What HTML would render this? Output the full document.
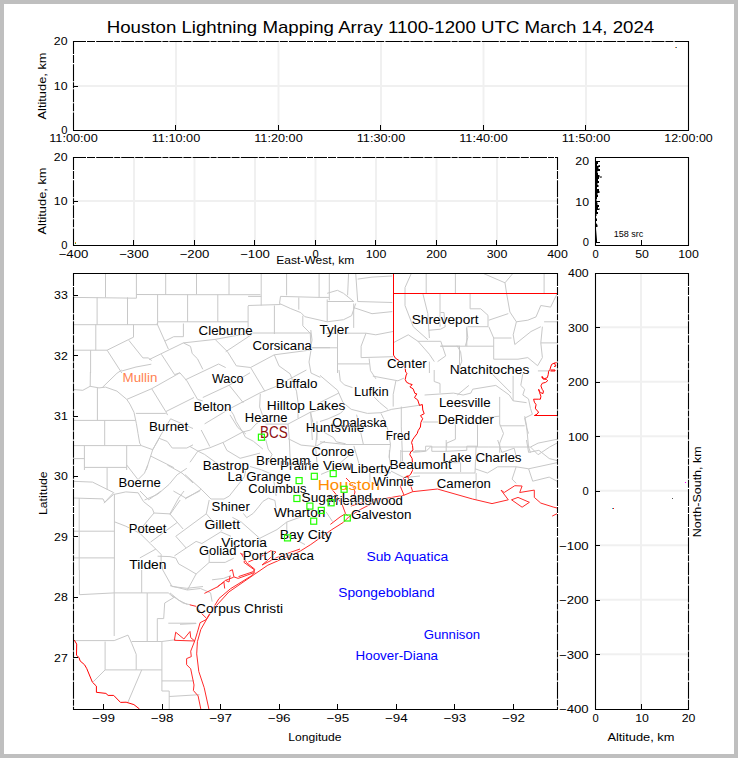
<!DOCTYPE html>
<html><head><meta charset="utf-8"><style>
html,body{margin:0;padding:0;background:#fff;}
svg{display:block;font-family:"Liberation Sans", sans-serif;}
</style></head><body>
<svg width="738" height="758" viewBox="0 0 738 758">
<rect x="0" y="0" width="738" height="758" fill="#bfbfbf"/>
<rect x="4" y="4" width="730" height="750" fill="#fff"/>
<text x="380.5" y="32.8" font-size="16.4" text-anchor="middle" fill="#000" textLength="547.5" lengthAdjust="spacingAndGlyphs" >Houston Lightning Mapping Array 1100-1200 UTC March 14, 2024</text>
<line x1="176.0" y1="42" x2="176.0" y2="130" stroke="#f0f0f0" stroke-width="2" />
<line x1="278.5" y1="42" x2="278.5" y2="130" stroke="#f0f0f0" stroke-width="2" />
<line x1="381.0" y1="42" x2="381.0" y2="130" stroke="#f0f0f0" stroke-width="2" />
<line x1="483.5" y1="42" x2="483.5" y2="130" stroke="#f0f0f0" stroke-width="2" />
<line x1="586.0" y1="42" x2="586.0" y2="130" stroke="#f0f0f0" stroke-width="2" />
<line x1="73" y1="86" x2="688" y2="86" stroke="#f0f0f0" stroke-width="2" />
<line x1="73.0" y1="41.5" x2="689.0" y2="41.5" stroke="#000" stroke-width="1.1" stroke-dasharray="13 1 8 1.2 17 1 6 1"/>
<line x1="73.0" y1="130.5" x2="689.0" y2="130.5" stroke="#000" stroke-width="1.1" />
<line x1="73.5" y1="41.0" x2="73.5" y2="131.0" stroke="#000" stroke-width="1.1" stroke-dasharray="13 1 8 1.2 17 1 6 1"/>
<line x1="688.5" y1="41.0" x2="688.5" y2="131.0" stroke="#000" stroke-width="1.1" />
<line x1="73.5" y1="130" x2="73.5" y2="125" stroke="#000" stroke-width="1" />
<text x="73.5" y="141.7" font-size="11.2" text-anchor="middle" fill="#000" textLength="48.5" lengthAdjust="spacingAndGlyphs" >11:00:00</text>
<line x1="175.5" y1="130" x2="175.5" y2="125" stroke="#000" stroke-width="1" />
<text x="176.0" y="141.7" font-size="11.2" text-anchor="middle" fill="#000" textLength="48.5" lengthAdjust="spacingAndGlyphs" >11:10:00</text>
<line x1="278.5" y1="130" x2="278.5" y2="125" stroke="#000" stroke-width="1" />
<text x="278.5" y="141.7" font-size="11.2" text-anchor="middle" fill="#000" textLength="48.5" lengthAdjust="spacingAndGlyphs" >11:20:00</text>
<line x1="380.5" y1="130" x2="380.5" y2="125" stroke="#000" stroke-width="1" />
<text x="381.0" y="141.7" font-size="11.2" text-anchor="middle" fill="#000" textLength="48.5" lengthAdjust="spacingAndGlyphs" >11:30:00</text>
<line x1="483.5" y1="130" x2="483.5" y2="125" stroke="#000" stroke-width="1" />
<text x="483.5" y="141.7" font-size="11.2" text-anchor="middle" fill="#000" textLength="48.5" lengthAdjust="spacingAndGlyphs" >11:40:00</text>
<line x1="585.5" y1="130" x2="585.5" y2="125" stroke="#000" stroke-width="1" />
<text x="586.0" y="141.7" font-size="11.2" text-anchor="middle" fill="#000" textLength="48.5" lengthAdjust="spacingAndGlyphs" >11:50:00</text>
<line x1="688.5" y1="130" x2="688.5" y2="125" stroke="#000" stroke-width="1" />
<text x="688.5" y="141.7" font-size="11.2" text-anchor="middle" fill="#000" textLength="48.5" lengthAdjust="spacingAndGlyphs" >12:00:00</text>
<line x1="73" y1="41.5" x2="78" y2="41.5" stroke="#000" stroke-width="1" />
<text x="67.5" y="45.2" font-size="11.2" text-anchor="end" fill="#000" textLength="13.7" lengthAdjust="spacingAndGlyphs" >20</text>
<line x1="73" y1="86.5" x2="78" y2="86.5" stroke="#000" stroke-width="1" />
<text x="67.5" y="90.2" font-size="11.2" text-anchor="end" fill="#000" textLength="13.7" lengthAdjust="spacingAndGlyphs" >10</text>
<line x1="73" y1="130.5" x2="78" y2="130.5" stroke="#000" stroke-width="1" />
<text x="67.5" y="134.2" font-size="11.2" text-anchor="end" fill="#000" >0</text>
<text x="45.6" y="86.0" font-size="11.2" text-anchor="middle" fill="#000" textLength="67.0" lengthAdjust="spacingAndGlyphs" transform="rotate(-90 45.6 86.0)" >Altitude, km</text>
<line x1="134.0" y1="158" x2="134.0" y2="245" stroke="#f0f0f0" stroke-width="2" />
<line x1="194.5" y1="158" x2="194.5" y2="245" stroke="#f0f0f0" stroke-width="2" />
<line x1="255.0" y1="158" x2="255.0" y2="245" stroke="#f0f0f0" stroke-width="2" />
<line x1="315.5" y1="158" x2="315.5" y2="245" stroke="#f0f0f0" stroke-width="2" />
<line x1="376.0" y1="158" x2="376.0" y2="245" stroke="#f0f0f0" stroke-width="2" />
<line x1="436.5" y1="158" x2="436.5" y2="245" stroke="#f0f0f0" stroke-width="2" />
<line x1="497.0" y1="158" x2="497.0" y2="245" stroke="#f0f0f0" stroke-width="2" />
<line x1="73" y1="201" x2="557" y2="201" stroke="#f0f0f0" stroke-width="2" />
<line x1="73.0" y1="157.5" x2="558.0" y2="157.5" stroke="#000" stroke-width="1.1" stroke-dasharray="13 1 8 1.2 17 1 6 1"/>
<line x1="73.0" y1="245.5" x2="558.0" y2="245.5" stroke="#000" stroke-width="1.1" />
<line x1="73.5" y1="157.0" x2="73.5" y2="246.0" stroke="#000" stroke-width="1.1" stroke-dasharray="13 1 8 1.2 17 1 6 1"/>
<line x1="557.5" y1="157.0" x2="557.5" y2="246.0" stroke="#000" stroke-width="1.1" stroke-dasharray="13 1 8 1.2 17 1 6 1"/>
<line x1="73.5" y1="245" x2="73.5" y2="240" stroke="#000" stroke-width="1" />
<text x="73.5" y="257.6" font-size="11.2" text-anchor="middle" fill="#000" textLength="29.7" lengthAdjust="spacingAndGlyphs" >−400</text>
<line x1="133.5" y1="245" x2="133.5" y2="240" stroke="#000" stroke-width="1" />
<text x="134.0" y="257.6" font-size="11.2" text-anchor="middle" fill="#000" textLength="29.7" lengthAdjust="spacingAndGlyphs" >−300</text>
<line x1="194.5" y1="245" x2="194.5" y2="240" stroke="#000" stroke-width="1" />
<text x="194.5" y="257.6" font-size="11.2" text-anchor="middle" fill="#000" textLength="29.7" lengthAdjust="spacingAndGlyphs" >−200</text>
<line x1="254.5" y1="245" x2="254.5" y2="240" stroke="#000" stroke-width="1" />
<text x="255.0" y="257.6" font-size="11.2" text-anchor="middle" fill="#000" textLength="29.7" lengthAdjust="spacingAndGlyphs" >−100</text>
<line x1="315.5" y1="245" x2="315.5" y2="240" stroke="#000" stroke-width="1" />
<text x="315.5" y="257.6" font-size="11.2" text-anchor="middle" fill="#000" >0</text>
<line x1="375.5" y1="245" x2="375.5" y2="240" stroke="#000" stroke-width="1" />
<text x="376.0" y="257.6" font-size="11.2" text-anchor="middle" fill="#000" textLength="20.6" lengthAdjust="spacingAndGlyphs" >100</text>
<line x1="436.5" y1="245" x2="436.5" y2="240" stroke="#000" stroke-width="1" />
<text x="436.5" y="257.6" font-size="11.2" text-anchor="middle" fill="#000" textLength="20.6" lengthAdjust="spacingAndGlyphs" >200</text>
<line x1="496.5" y1="245" x2="496.5" y2="240" stroke="#000" stroke-width="1" />
<text x="497.0" y="257.6" font-size="11.2" text-anchor="middle" fill="#000" textLength="20.6" lengthAdjust="spacingAndGlyphs" >300</text>
<line x1="557.5" y1="245" x2="557.5" y2="240" stroke="#000" stroke-width="1" />
<text x="557.5" y="257.6" font-size="11.2" text-anchor="middle" fill="#000" textLength="20.6" lengthAdjust="spacingAndGlyphs" >400</text>
<line x1="73" y1="157.5" x2="78" y2="157.5" stroke="#000" stroke-width="1" />
<text x="67.5" y="161.2" font-size="11.2" text-anchor="end" fill="#000" textLength="13.7" lengthAdjust="spacingAndGlyphs" >20</text>
<line x1="73" y1="201.5" x2="78" y2="201.5" stroke="#000" stroke-width="1" />
<text x="67.5" y="205.2" font-size="11.2" text-anchor="end" fill="#000" textLength="13.7" lengthAdjust="spacingAndGlyphs" >10</text>
<line x1="73" y1="245.5" x2="78" y2="245.5" stroke="#000" stroke-width="1" />
<text x="67.5" y="249.2" font-size="11.2" text-anchor="end" fill="#000" >0</text>
<text x="45.6" y="201.0" font-size="11.2" text-anchor="middle" fill="#000" textLength="67.0" lengthAdjust="spacingAndGlyphs" transform="rotate(-90 45.6 201.0)" >Altitude, km</text>
<text x="315.3" y="263.9" font-size="11.2" text-anchor="middle" fill="#000" textLength="78.0" lengthAdjust="spacingAndGlyphs" >East-West, km</text>
<line x1="595.0" y1="157.5" x2="689.0" y2="157.5" stroke="#000" stroke-width="1.1" />
<line x1="595.0" y1="245.5" x2="689.0" y2="245.5" stroke="#000" stroke-width="1.1" />
<line x1="595.5" y1="157.0" x2="595.5" y2="246.0" stroke="#000" stroke-width="1.1" />
<line x1="688.5" y1="157.0" x2="688.5" y2="246.0" stroke="#000" stroke-width="1.1" />
<line x1="595.5" y1="245" x2="595.5" y2="240" stroke="#000" stroke-width="1" />
<text x="595.5" y="257.7" font-size="11.2" text-anchor="middle" fill="#000" >0</text>
<line x1="641.5" y1="245" x2="641.5" y2="240" stroke="#000" stroke-width="1" />
<text x="642.0" y="257.7" font-size="11.2" text-anchor="middle" fill="#000" textLength="13.7" lengthAdjust="spacingAndGlyphs" >50</text>
<line x1="688.5" y1="245" x2="688.5" y2="240" stroke="#000" stroke-width="1" />
<text x="688.5" y="257.7" font-size="11.2" text-anchor="middle" fill="#000" textLength="20.6" lengthAdjust="spacingAndGlyphs" >100</text>
<line x1="595" y1="242.5" x2="600" y2="242.5" stroke="#000" stroke-width="1" />
<text x="589.0" y="246.2" font-size="11.2" text-anchor="end" fill="#000" >0</text>
<line x1="595" y1="201.5" x2="600" y2="201.5" stroke="#000" stroke-width="1" />
<text x="589.0" y="205.6" font-size="11.2" text-anchor="end" fill="#000" textLength="13.7" lengthAdjust="spacingAndGlyphs" >10</text>
<line x1="595" y1="161.5" x2="600" y2="161.5" stroke="#000" stroke-width="1" />
<text x="589.0" y="165.0" font-size="11.2" text-anchor="end" fill="#000" textLength="13.7" lengthAdjust="spacingAndGlyphs" >20</text>
<text x="628.5" y="237.1" font-size="8.8" text-anchor="middle" fill="#000" textLength="29.7" lengthAdjust="spacingAndGlyphs" >158 src</text>
<path d="M595.5,161 L598,162 L598,164 L597,164 L597,166 L600,165 L600,167 L598.5,167 L598.5,169 L600,169 L600,171 L597.5,171 L597.5,173 L598,173 L598,175 L599.5,175 L599.5,177 L601.5,176 L601.5,178 L599,177 L599,179 L598,179 L598,181 L599,181 L599,183 L597.5,183 L597.5,185 L598.5,185 L598.5,187 L597,187 L597,189 L599,189 L599,191 L599.5,191 L599.5,193 L597.5,193 L597.5,195 L598,195 L598,197 L597,197 L597,199 L596.5,199 L596.5,201 L597.5,203 L597.5,205 L599,205 L599,207 L598,207 L598,209 L599.5,208 L599.5,210 L597,210 L597,212 L598,212 L598,214 L596.5,214 L596.5,216 L596,216 L596,218 L597,219 L597,221 L596,221 L596,223 L597.5,225 L597.5,227 L596,227 L596,229 L597,240 L597,242 L596,242 L596,244 L595.5,244 Z" fill="#000"/>
<clipPath id="mc"><rect x="73" y="273" width="484" height="436"/></clipPath>
<g clip-path="url(#mc)" fill="none" stroke-linejoin="round">
<polyline points="105.5,273.0 105.5,297.4" stroke="#c8c8c8" stroke-width="1"/>
<polyline points="136.4,273.0 136.4,298.2" stroke="#c8c8c8" stroke-width="1"/>
<polyline points="165.7,273.0 165.7,295.0" stroke="#c8c8c8" stroke-width="1"/>
<polyline points="73.0,297.4 136.4,298.2" stroke="#c8c8c8" stroke-width="1"/>
<polyline points="136.4,294.5 196.5,294.7 260.5,294.7" stroke="#c8c8c8" stroke-width="1"/>
<polyline points="97.1,297.4 97.1,324.7" stroke="#c8c8c8" stroke-width="1"/>
<polyline points="127.5,297.4 127.5,324.7" stroke="#c8c8c8" stroke-width="1"/>
<polyline points="157.6,294.5 157.6,321.8" stroke="#c8c8c8" stroke-width="1"/>
<polyline points="187.6,294.5 187.6,321.8" stroke="#c8c8c8" stroke-width="1"/>
<polyline points="73.0,324.7 157.6,324.7 157.6,321.8 217.8,321.8 248.1,321.8" stroke="#c8c8c8" stroke-width="1"/>
<polyline points="95.8,324.7 95.8,350.2" stroke="#c8c8c8" stroke-width="1"/>
<polyline points="133.5,324.7 133.5,337.2 128.3,339.7 107.1,350.2 73.0,350.2" stroke="#c8c8c8" stroke-width="1"/>
<polyline points="90.6,350.2 90.6,373.0" stroke="#c8c8c8" stroke-width="1"/>
<polyline points="107.1,350.2 121.8,373.0" stroke="#c8c8c8" stroke-width="1"/>
<polyline points="196.5,273.0 196.5,294.7" stroke="#c8c8c8" stroke-width="1"/>
<polyline points="229.0,273.0 229.0,294.7" stroke="#c8c8c8" stroke-width="1"/>
<polyline points="217.8,294.7 217.8,321.8" stroke="#c8c8c8" stroke-width="1"/>
<polyline points="248.1,306.0 248.1,335.5" stroke="#c8c8c8" stroke-width="1"/>
<polyline points="310.3,333.7 311.0,350.0 309.0,362.0 311.0,373.0" stroke="#c8c8c8" stroke-width="1"/>
<polyline points="310.3,347.8 337.5,347.8" stroke="#c8c8c8" stroke-width="1"/>
<polyline points="337.5,329.4 337.5,373.0" stroke="#c8c8c8" stroke-width="1"/>
<polyline points="326.0,333.7 340.0,333.2 366.0,333.2 375.8,334.8 393.0,331.5" stroke="#c8c8c8" stroke-width="1"/>
<polyline points="366.0,333.2 361.1,346.2 361.1,357.6 393.0,356.7" stroke="#c8c8c8" stroke-width="1"/>
<polyline points="411.5,273.0 405.0,287.6 405.0,305.5 413.2,326.7 427.8,339.7" stroke="#c8c8c8" stroke-width="1"/>
<polyline points="426.2,273.0 426.2,293.8" stroke="#c8c8c8" stroke-width="1"/>
<polyline points="455.4,273.0 455.4,293.8" stroke="#c8c8c8" stroke-width="1"/>
<polyline points="422.9,293.8 427.8,313.6 429.4,338.0" stroke="#c8c8c8" stroke-width="1"/>
<polyline points="440.0,293.8 440.0,326.7" stroke="#c8c8c8" stroke-width="1"/>
<polyline points="393.0,342.9 408.3,334.8 418.0,341.3 440.8,341.3 445.7,355.9 437.6,361.6" stroke="#c8c8c8" stroke-width="1"/>
<polyline points="418.0,341.3 429.4,354.3 434.3,361.6" stroke="#c8c8c8" stroke-width="1"/>
<polyline points="429.4,361.6 429.4,373.0" stroke="#c8c8c8" stroke-width="1"/>
<polyline points="440.8,346.2 460.0,346.2" stroke="#c8c8c8" stroke-width="1"/>
<polyline points="482.3,273.0 505.0,282.8 513.2,273.0" stroke="#c8c8c8" stroke-width="1"/>
<polyline points="505.0,282.8 506.7,294.0" stroke="#c8c8c8" stroke-width="1"/>
<polyline points="544.1,273.0 544.1,294.0" stroke="#c8c8c8" stroke-width="1"/>
<polyline points="470.1,294.0 470.1,308.8 480.7,308.8 488.0,315.3 488.0,326.7 467.6,326.7" stroke="#c8c8c8" stroke-width="1"/>
<polyline points="506.7,294.0 509.9,312.0 516.4,321.8 513.2,334.8 514.8,344.5" stroke="#c8c8c8" stroke-width="1"/>
<polyline points="488.8,320.2 508.3,313.6" stroke="#c8c8c8" stroke-width="1"/>
<polyline points="488.8,326.7 493.7,338.0 493.7,359.2 518.0,359.2" stroke="#c8c8c8" stroke-width="1"/>
<polyline points="493.7,338.0 511.5,338.0" stroke="#c8c8c8" stroke-width="1"/>
<polyline points="440.0,346.2 493.7,346.2" stroke="#c8c8c8" stroke-width="1"/>
<polyline points="466.8,326.7 466.8,346.2" stroke="#c8c8c8" stroke-width="1"/>
<polyline points="459.5,346.2 459.5,373.0" stroke="#c8c8c8" stroke-width="1"/>
<polyline points="516.4,321.8 527.8,320.2 536.0,316.9 540.8,305.5 550.6,307.1 557.0,294.0" stroke="#c8c8c8" stroke-width="1"/>
<polyline points="544.1,321.8 557.0,321.8" stroke="#c8c8c8" stroke-width="1"/>
<polyline points="514.8,344.5 531.0,331.5 540.8,326.7" stroke="#c8c8c8" stroke-width="1"/>
<polyline points="542.4,326.7 540.8,342.9 557.0,342.9" stroke="#c8c8c8" stroke-width="1"/>
<polyline points="540.8,342.9 542.4,357.6 537.6,365.7" stroke="#c8c8c8" stroke-width="1"/>
<polyline points="518.0,359.2 527.8,357.6 537.6,365.7" stroke="#c8c8c8" stroke-width="1"/>
<polyline points="73.0,389.5 82.8,390.3 90.1,386.3 99.0,387.9 105.5,387.1 116.9,391.1 126.7,399.3 129.9,404.1 134.0,412.3 136.4,423.7 138.0,433.4 139.7,443.2 141.3,445.6" stroke="#c8c8c8" stroke-width="1"/>
<polyline points="102.3,387.5 116.9,373.3 121.8,370.0" stroke="#c8c8c8" stroke-width="1"/>
<polyline points="97.4,387.9 97.4,420.4" stroke="#c8c8c8" stroke-width="1"/>
<polyline points="73.0,420.4 135.6,420.4" stroke="#c8c8c8" stroke-width="1"/>
<polyline points="104.7,420.4 104.7,445.6" stroke="#c8c8c8" stroke-width="1"/>
<polyline points="73.0,445.6 141.3,445.6 152.7,449.7" stroke="#c8c8c8" stroke-width="1"/>
<polyline points="84.4,445.6 84.4,470.0" stroke="#c8c8c8" stroke-width="1"/>
<polyline points="126.7,445.6 126.7,470.0" stroke="#c8c8c8" stroke-width="1"/>
<polyline points="73.0,458.6 84.4,458.6" stroke="#c8c8c8" stroke-width="1"/>
<polyline points="170.6,418.8 160.8,435.0 152.7,449.7 146.2,470.0" stroke="#c8c8c8" stroke-width="1"/>
<polyline points="152.7,449.7 159.2,438.3 167.3,441.5 172.2,448.0 186.8,448.0 193.0,444.8" stroke="#c8c8c8" stroke-width="1"/>
<polyline points="151.0,456.2 173.8,467.6" stroke="#c8c8c8" stroke-width="1"/>
<polyline points="170.6,418.8 193.0,428.5" stroke="#c8c8c8" stroke-width="1"/>
<polyline points="230.9,410.9 233.5,414.8 236.1,421.4 242.7,432.0 245.4,437.2 253.3,441.2 262.9,449.1" stroke="#c8c8c8" stroke-width="1"/>
<polyline points="201.2,430.0 209.8,446.5" stroke="#c8c8c8" stroke-width="1"/>
<polyline points="190.0,446.5 197.9,451.1 209.8,447.8 224.3,441.9 242.7,432.0" stroke="#c8c8c8" stroke-width="1"/>
<polyline points="197.9,451.1 190.0,462.3" stroke="#c8c8c8" stroke-width="1"/>
<polyline points="197.9,451.1 204.5,454.4 219.0,464.9" stroke="#c8c8c8" stroke-width="1"/>
<polyline points="223.0,442.5 226.9,450.4 240.1,458.3 260.0,453.1" stroke="#c8c8c8" stroke-width="1"/>
<polyline points="242.7,432.0 250.6,430.0 255.9,424.1 260.0,421.4" stroke="#c8c8c8" stroke-width="1"/>
<polyline points="260.3,393.7 259.6,406.9 262.9,416.1 265.5,422.7" stroke="#c8c8c8" stroke-width="1"/>
<polyline points="265.5,424.1 288.0,424.1 310.4,412.2 325.0,408.2" stroke="#c8c8c8" stroke-width="1"/>
<polyline points="288.0,424.1 289.3,438.6 290.6,470.0" stroke="#c8c8c8" stroke-width="1"/>
<polyline points="288.0,438.6 301.1,445.1 315.6,446.5 325.0,441.2" stroke="#c8c8c8" stroke-width="1"/>
<polyline points="310.4,412.2 313.0,422.7 317.0,432.0 315.6,446.5 317.0,462.3" stroke="#c8c8c8" stroke-width="1"/>
<polyline points="265.5,438.6 268.2,449.1 272.1,454.4 268.2,462.3" stroke="#c8c8c8" stroke-width="1"/>
<polyline points="320.0,375.4 337.6,390.3 343.0,402.5 351.2,409.3 367.4,413.4 381.0,412.7 391.8,409.3 420.0,405.2" stroke="#c8c8c8" stroke-width="1"/>
<polyline points="339.0,370.0 340.3,380.8 344.4,384.9 352.5,387.6" stroke="#c8c8c8" stroke-width="1"/>
<polyline points="338.9,393.0 320.0,402.5" stroke="#c8c8c8" stroke-width="1"/>
<polyline points="372.8,376.1 397.9,380.8 404.0,378.1" stroke="#c8c8c8" stroke-width="1"/>
<polyline points="395.9,380.8 393.2,394.4 393.2,406.6" stroke="#c8c8c8" stroke-width="1"/>
<polyline points="374.2,397.1 379.6,402.5 387.8,409.3" stroke="#c8c8c8" stroke-width="1"/>
<polyline points="356.6,414.7 360.7,432.3 363.4,444.5" stroke="#c8c8c8" stroke-width="1"/>
<polyline points="381.0,413.4 383.7,418.8 387.8,429.6 390.5,444.5 389.1,456.7 390.5,464.9" stroke="#c8c8c8" stroke-width="1"/>
<polyline points="401.3,406.6 401.3,426.9 402.7,463.5" stroke="#c8c8c8" stroke-width="1"/>
<polyline points="320.0,441.8 345.7,444.5 390.5,444.5" stroke="#c8c8c8" stroke-width="1"/>
<polyline points="353.9,445.9 359.3,464.9" stroke="#c8c8c8" stroke-width="1"/>
<polyline points="320.0,421.5 328.1,418.8 340.3,413.4 344.4,409.3" stroke="#c8c8c8" stroke-width="1"/>
<polyline points="324.1,432.3 333.6,437.7 336.3,441.8 345.7,443.8" stroke="#c8c8c8" stroke-width="1"/>
<polyline points="401.3,451.3 420.0,451.3" stroke="#c8c8c8" stroke-width="1"/>
<polyline points="434.2,370.0 434.2,381.5 440.0,383.5 440.0,393.1" stroke="#c8c8c8" stroke-width="1"/>
<polyline points="424.6,395.0 453.5,393.1 463.1,395.0 470.8,393.1 472.7,389.2 495.8,385.4 509.3,395.0 513.1,400.8 526.6,402.7" stroke="#c8c8c8" stroke-width="1"/>
<polyline points="457.3,395.0 468.9,385.4" stroke="#c8c8c8" stroke-width="1"/>
<polyline points="492.0,373.8 511.2,393.1" stroke="#c8c8c8" stroke-width="1"/>
<polyline points="513.1,375.8 513.1,400.8" stroke="#c8c8c8" stroke-width="1"/>
<polyline points="499.7,396.9 499.7,423.9 503.5,433.5 499.7,443.1 499.7,452.7" stroke="#c8c8c8" stroke-width="1"/>
<polyline points="422.7,422.0 438.1,422.0" stroke="#c8c8c8" stroke-width="1"/>
<polyline points="478.5,418.1 499.7,416.2" stroke="#c8c8c8" stroke-width="1"/>
<polyline points="499.7,425.8 524.7,425.8" stroke="#c8c8c8" stroke-width="1"/>
<polyline points="455.4,422.0 455.4,439.3 446.7,443.1 446.7,447.0" stroke="#c8c8c8" stroke-width="1"/>
<polyline points="477.5,422.0 477.5,447.0" stroke="#c8c8c8" stroke-width="1"/>
<polyline points="524.7,416.2 526.6,425.8 528.5,447.0 530.5,452.7" stroke="#c8c8c8" stroke-width="1"/>
<polyline points="415.0,450.8 426.5,450.8 430.4,447.0 488.1,447.0 530.5,447.0 538.1,443.1 557.0,439.3" stroke="#c8c8c8" stroke-width="1"/>
<polyline points="522.8,373.8 520.8,385.4 524.7,389.2 522.8,395.0 528.5,398.9 530.5,408.5 532.4,414.3 524.7,418.1 526.6,427.7 528.5,433.5" stroke="#c8c8c8" stroke-width="1"/>
<polyline points="530.5,447.0 538.1,454.7 549.7,447.0 557.0,443.1" stroke="#c8c8c8" stroke-width="1"/>
<polyline points="84.4,467.4 126.7,467.4" stroke="#c8c8c8" stroke-width="1"/>
<polyline points="107.1,467.4 107.1,489.4" stroke="#c8c8c8" stroke-width="1"/>
<polyline points="126.7,465.0 138.0,479.6 144.5,473.1 147.8,465.0" stroke="#c8c8c8" stroke-width="1"/>
<polyline points="73.0,481.3 92.5,482.1 113.7,492.6 103.9,503.2" stroke="#c8c8c8" stroke-width="1"/>
<polyline points="144.5,500.0 157.6,494.3 169.0,484.5 177.1,474.8 186.8,468.3" stroke="#c8c8c8" stroke-width="1"/>
<polyline points="167.3,465.0 182.0,473.1 193.0,482.9" stroke="#c8c8c8" stroke-width="1"/>
<polyline points="201.3,489.3 185.0,499.0" stroke="#c8c8c8" stroke-width="1"/>
<polyline points="298.8,541.3 305.0,544.6" stroke="#c8c8c8" stroke-width="1"/>
<polyline points="250.0,466.5 261.4,469.8 272.8,474.6 276.1,495.8" stroke="#c8c8c8" stroke-width="1"/>
<polyline points="369.9,472.8 369.9,482.5" stroke="#c8c8c8" stroke-width="1"/>
<polyline points="369.9,472.8 391.0,472.8" stroke="#c8c8c8" stroke-width="1"/>
<polyline points="391.0,471.1 404.0,477.6 420.0,476.0" stroke="#c8c8c8" stroke-width="1"/>
<polyline points="389.4,450.0 389.4,458.0" stroke="#c8c8c8" stroke-width="1"/>
<polyline points="400.8,450.0 400.8,463.0 410.6,463.0" stroke="#c8c8c8" stroke-width="1"/>
<polyline points="321.0,474.4 332.5,469.5 355.3,450.0" stroke="#c8c8c8" stroke-width="1"/>
<polyline points="326.0,511.8 332.5,521.5" stroke="#c8c8c8" stroke-width="1"/>
<polyline points="413.2,452.4 425.6,451.3 425.6,446.2 431.8,446.2 431.8,451.3 446.2,451.3 446.2,440.0" stroke="#c8c8c8" stroke-width="1"/>
<polyline points="446.2,451.3 466.8,450.3 466.8,446.2 477.1,446.2" stroke="#c8c8c8" stroke-width="1"/>
<polyline points="413.2,473.0 475.0,473.0" stroke="#c8c8c8" stroke-width="1"/>
<polyline points="450.3,462.7 460.6,462.7 460.6,472.0" stroke="#c8c8c8" stroke-width="1"/>
<polyline points="476.1,473.0 476.1,499.7" stroke="#c8c8c8" stroke-width="1"/>
<polyline points="476.1,446.2 475.0,473.0" stroke="#c8c8c8" stroke-width="1"/>
<polyline points="475.0,468.8 487.4,473.0 497.7,466.8 516.2,466.8 528.6,468.8 557.0,462.7" stroke="#c8c8c8" stroke-width="1"/>
<polyline points="516.2,466.8 512.1,479.1 516.2,483.3" stroke="#c8c8c8" stroke-width="1"/>
<polyline points="528.6,468.8 532.7,481.2 549.2,477.1 557.0,481.2" stroke="#c8c8c8" stroke-width="1"/>
<polyline points="497.7,440.0 501.8,452.4 514.2,448.2 516.2,456.5" stroke="#c8c8c8" stroke-width="1"/>
<polyline points="526.5,440.0 528.6,452.4 538.9,450.3 549.2,458.5 557.0,460.6" stroke="#c8c8c8" stroke-width="1"/>
<polyline points="79.4,570.0 79.4,594.7 114.2,592.9 147.2,592.9 168.3,592.9" stroke="#c8c8c8" stroke-width="1"/>
<polyline points="114.2,570.0 114.2,636.0" stroke="#c8c8c8" stroke-width="1"/>
<polyline points="141.7,570.0 141.7,592.9" stroke="#c8c8c8" stroke-width="1"/>
<polyline points="147.2,592.9 147.2,641.5" stroke="#c8c8c8" stroke-width="1"/>
<polyline points="162.8,570.0 172.0,586.5 186.7,588.3 203.0,586.5" stroke="#c8c8c8" stroke-width="1"/>
<polyline points="168.3,592.9 173.8,597.5 164.7,603.0 163.7,618.6 157.3,618.6 157.3,641.5" stroke="#c8c8c8" stroke-width="1"/>
<polyline points="168.3,623.2 196.0,623.2" stroke="#c8c8c8" stroke-width="1"/>
<polyline points="172.0,595.7 183.0,603.0 190.3,604.8" stroke="#c8c8c8" stroke-width="1"/>
<polyline points="73.0,640.6 114.2,640.6 128.0,635.1 131.7,643.3 136.2,654.3 136.2,669.9 161.9,669.9" stroke="#c8c8c8" stroke-width="1"/>
<polyline points="131.7,641.5 161.9,641.5 175.7,639.7" stroke="#c8c8c8" stroke-width="1"/>
<polyline points="105.1,641.5 105.1,669.9 93.2,681.8" stroke="#c8c8c8" stroke-width="1"/>
<polyline points="105.1,669.9 136.2,669.9" stroke="#c8c8c8" stroke-width="1"/>
<polyline points="141.7,669.9 128.0,702.0" stroke="#c8c8c8" stroke-width="1"/>
<polyline points="161.9,641.5 161.9,691.0 169.2,691.0 169.2,709.0" stroke="#c8c8c8" stroke-width="1"/>
<polyline points="161.9,680.9 194.0,680.9" stroke="#c8c8c8" stroke-width="1"/>
<polyline points="169.2,696.5 199.5,694.7" stroke="#c8c8c8" stroke-width="1"/>
<polyline points="180.0,624.3 196.3,623.5" stroke="#c8c8c8" stroke-width="1"/>
<polyline points="128.8,340.3 142.9,357.9 148.2,357.9 151.7,360.5" stroke="#c8c8c8" stroke-width="1"/>
<polyline points="157.0,323.5 168.4,349.1" stroke="#c8c8c8" stroke-width="1"/>
<polyline points="164.9,341.1 173.7,336.7 183.4,336.7 183.4,323.5" stroke="#c8c8c8" stroke-width="1"/>
<polyline points="149.1,359.6 183.4,342.9 215.1,339.4 250.0,333.0" stroke="#c8c8c8" stroke-width="1"/>
<polyline points="252.2,334.2 225.7,351.7" stroke="#c8c8c8" stroke-width="1"/>
<polyline points="183.4,342.9 190.5,346.4 192.2,353.5 197.5,358.8 202.8,369.3" stroke="#c8c8c8" stroke-width="1"/>
<polyline points="215.1,339.4 227.5,351.7 236.3,365.8 250.6,367.5 274.3,354.8 310.7,350.0" stroke="#c8c8c8" stroke-width="1"/>
<polyline points="161.4,354.3 174.6,374.6 179.9,372.8" stroke="#c8c8c8" stroke-width="1"/>
<polyline points="127.0,399.3 151.7,388.7 179.9,372.8 186.9,380.8 197.5,399.3 202.8,401.0" stroke="#c8c8c8" stroke-width="1"/>
<polyline points="185.2,379.9 218.6,364.0 225.7,367.6" stroke="#c8c8c8" stroke-width="1"/>
<polyline points="151.7,388.7 165.8,411.6 167.6,415.1" stroke="#c8c8c8" stroke-width="1"/>
<polyline points="165.8,411.6 194.0,397.5" stroke="#c8c8c8" stroke-width="1"/>
<polyline points="202.8,397.5 229.2,385.2 250.0,372.8" stroke="#c8c8c8" stroke-width="1"/>
<polyline points="229.2,385.2 243.3,402.8" stroke="#c8c8c8" stroke-width="1"/>
<polyline points="204.6,423.9 230.0,408.6 260.1,392.8 275.9,386.5 293.3,377.0 306.4,370.0" stroke="#c8c8c8" stroke-width="1"/>
<polyline points="135.9,413.4 165.8,413.4" stroke="#c8c8c8" stroke-width="1"/>
<polyline points="250.6,367.5 264.8,391.2" stroke="#c8c8c8" stroke-width="1"/>
<polyline points="274.3,354.8 279.0,365.9 290.1,373.8 296.5,391.2 298.0,402.3 298.0,418.1" stroke="#c8c8c8" stroke-width="1"/>
<polyline points="312.3,347.7 330.0,347.7" stroke="#c8c8c8" stroke-width="1"/>
<polyline points="230.0,414.9 237.9,427.6 245.8,433.9" stroke="#c8c8c8" stroke-width="1"/>
<polyline points="310.7,411.8 312.3,440.0" stroke="#c8c8c8" stroke-width="1"/>
<polyline points="317.0,421.3 317.0,440.0" stroke="#c8c8c8" stroke-width="1"/>
<polyline points="73.0,498.0 103.0,498.9 104.7,502.4 113.5,494.5 125.8,491.9 138.2,492.8 143.5,501.6 152.3,508.6 154.0,513.0 169.9,513.9" stroke="#c8c8c8" stroke-width="1"/>
<polyline points="79.2,498.0 79.2,570.0" stroke="#c8c8c8" stroke-width="1"/>
<polyline points="114.4,494.5 114.4,570.0" stroke="#c8c8c8" stroke-width="1"/>
<polyline points="73.0,531.2 114.4,531.2" stroke="#c8c8c8" stroke-width="1"/>
<polyline points="73.0,557.9 114.4,557.9" stroke="#c8c8c8" stroke-width="1"/>
<polyline points="114.4,521.8 125.8,526.2 139.9,533.3 150.5,543.8 161.1,554.4 161.1,561.5 162.8,570.0" stroke="#c8c8c8" stroke-width="1"/>
<polyline points="154.0,513.0 139.9,529.8" stroke="#c8c8c8" stroke-width="1"/>
<polyline points="169.9,513.9 178.7,498.0 184.0,491.0" stroke="#c8c8c8" stroke-width="1"/>
<polyline points="150.5,542.1 176.9,522.7" stroke="#c8c8c8" stroke-width="1"/>
<polyline points="139.9,557.9 155.8,549.1" stroke="#c8c8c8" stroke-width="1"/>
<polyline points="140.0,491.0 148.7,499.8 161.1,491.0" stroke="#c8c8c8" stroke-width="1"/>
<polyline points="173.4,491.0 185.7,498.0 199.8,491.0" stroke="#c8c8c8" stroke-width="1"/>
<polyline points="180.2,500.0 170.0,514.5" stroke="#c8c8c8" stroke-width="1"/>
<polyline points="169.9,513.9 183.1,529.0" stroke="#c8c8c8" stroke-width="1"/>
<polyline points="175.8,536.3 206.3,513.8 209.2,500.0" stroke="#c8c8c8" stroke-width="1"/>
<polyline points="175.8,536.3 186.0,547.9" stroke="#c8c8c8" stroke-width="1"/>
<polyline points="206.3,513.8 219.3,529.0 222.2,530.5" stroke="#c8c8c8" stroke-width="1"/>
<polyline points="174.4,555.9 196.1,541.4 201.9,543.5 220.8,531.9 231.0,536.3" stroke="#c8c8c8" stroke-width="1"/>
<polyline points="157.6,556.2 170.0,556.6 175.8,558.1 178.7,563.9 188.9,569.7 196.1,574.0 209.2,562.4 225.2,562.4 233.9,558.1" stroke="#c8c8c8" stroke-width="1"/>
<polyline points="209.2,552.2 209.2,562.4" stroke="#c8c8c8" stroke-width="1"/>
<polyline points="196.1,574.0 187.4,590.0 170.0,585.6" stroke="#c8c8c8" stroke-width="1"/>
<polyline points="187.4,590.0 200.5,588.5 210.6,592.9 212.1,601.6" stroke="#c8c8c8" stroke-width="1"/>
<polyline points="170.0,592.9 178.7,600.1 187.4,604.5" stroke="#c8c8c8" stroke-width="1"/>
<polyline points="212.1,579.8 223.7,578.4 231.0,575.5" stroke="#c8c8c8" stroke-width="1"/>
<polyline points="440.5,312.5 444.0,312.5 445.2,326.8 440.5,329.2 428.6,330.3" stroke="#c8c8c8" stroke-width="1"/>
<polyline points="457.1,345.8 460.6,351.7 461.8,361.2 459.5,367.1" stroke="#c8c8c8" stroke-width="1"/>
<polyline points="466.6,328.0 467.8,337.5 465.4,345.8" stroke="#c8c8c8" stroke-width="1"/>
<polyline points="337.9,363.9 369.1,363.9" stroke="#c8c8c8" stroke-width="1"/>
<polyline points="369.1,358.5 370.5,370.7 375.9,378.8" stroke="#c8c8c8" stroke-width="1"/>
<polyline points="311.0,373.0 320.3,377.4" stroke="#c8c8c8" stroke-width="1"/>
<polyline points="310.8,330.0 312.0,340.0 310.8,347.6" stroke="#c8c8c8" stroke-width="1"/>
<polyline points="90.4,372.0 90.2,386.5" stroke="#c8c8c8" stroke-width="1"/>
<polyline points="121.8,371.0 136.0,367.0 151.3,364.2" stroke="#c8c8c8" stroke-width="1"/>
<polyline points="537.9,370.9 549.9,370.9" stroke="#c8c8c8" stroke-width="1"/>
<polyline points="185.0,474.6 201.3,489.3 211.0,499.0 224.0,499.0 229.3,496.0 241.3,480.8 244.5,476.5 245.6,470.0" stroke="#c8c8c8" stroke-width="1"/>
<polyline points="243.4,513.4 246.7,517.7 253.2,513.4 258.6,506.9 262.9,501.4 268.4,498.2 274.9,500.4 276.0,507.9" stroke="#c8c8c8" stroke-width="1"/>
<polyline points="232.4,517.4 241.3,522.0 259.7,538.3 260.8,545.0" stroke="#c8c8c8" stroke-width="1"/>
<polyline points="259.7,538.3 277.0,529.6 286.8,522.0 305.0,515.5" stroke="#c8c8c8" stroke-width="1"/>
<polyline points="286.8,522.0 286.8,535.0" stroke="#c8c8c8" stroke-width="1"/>
<polyline points="261.2,273.0 261.2,305.5" stroke="#c8c8c8" stroke-width="1"/>
<polyline points="248.1,296.4 261.2,296.4" stroke="#c8c8c8" stroke-width="1"/>
<polyline points="248.1,305.5 280.5,304.5" stroke="#c8c8c8" stroke-width="1"/>
<polyline points="286.6,273.0 286.6,295.4" stroke="#c8c8c8" stroke-width="1"/>
<polyline points="280.5,296.4 319.1,297.4 329.3,297.4" stroke="#c8c8c8" stroke-width="1"/>
<polyline points="319.1,273.0 319.1,297.4" stroke="#c8c8c8" stroke-width="1"/>
<polyline points="329.3,273.0 329.3,300.4" stroke="#c8c8c8" stroke-width="1"/>
<polyline points="280.5,296.4 279.5,303.5 290.7,308.6 300.8,312.6 304.9,316.7 327.2,321.8 343.5,319.7 351.6,315.7 355.7,303.5" stroke="#c8c8c8" stroke-width="1"/>
<polyline points="298.8,297.4 298.8,309.6" stroke="#c8c8c8" stroke-width="1"/>
<polyline points="274.4,305.5 274.4,334.0" stroke="#c8c8c8" stroke-width="1"/>
<polyline points="327.2,299.4 327.2,321.8" stroke="#c8c8c8" stroke-width="1"/>
<polyline points="327.2,293.3 337.4,290.3 343.5,293.3 353.7,301.5 327.2,301.5" stroke="#c8c8c8" stroke-width="1"/>
<polyline points="348.6,273.0 347.6,295.4" stroke="#c8c8c8" stroke-width="1"/>
<polyline points="355.7,273.0 357.7,301.5 392.3,302.5" stroke="#c8c8c8" stroke-width="1"/>
<polyline points="357.7,279.1 372.0,277.1 392.3,276.0" stroke="#c8c8c8" stroke-width="1"/>
<polyline points="353.7,303.5 353.7,327.9" stroke="#c8c8c8" stroke-width="1"/>
<polyline points="353.7,307.6 372.0,313.7 392.3,311.6" stroke="#c8c8c8" stroke-width="1"/>
<polyline points="302.8,315.7 302.8,325.8 311.0,334.0" stroke="#c8c8c8" stroke-width="1"/>
<polyline points="248.0,333.0 311.0,333.0" stroke="#c8c8c8" stroke-width="1"/>
<polyline points="208.9,709.0 204.2,687.7 198.8,671.5 196.7,653.9 197.4,641.7 200.8,629.5 206.2,620.0 212.5,609.9 228.8,592.0 254.8,574.1 267.8,565.2 300.4,551.0 310.8,544.5 331.4,529.9 343.4,522.3 348.8,516.9 360.7,509.3 380.0,499.5 404.0,495.2 412.7,491.7 437.4,489.0 472.5,499.0 492.0,503.6 508.3,499.8 501.0,490.1 504.2,492.5 514.8,485.7 522.1,486.0 519.7,492.5 534.3,490.1 534.3,497.4 540.8,503.1 553.8,507.2 557.0,508.0" stroke="#ff2a2a" stroke-width="1"/>
<polyline points="200.8,709.0 198.1,695.9 193.4,690.5 194.0,685.0 190.7,668.8 186.6,664.7 186.6,658.6 191.3,656.6 190.7,651.2 194.7,641.0 197.4,632.2 200.1,622.7 206.0,619.7 219.0,598.5 230.4,588.8 251.5,575.8 254.8,572.5" stroke="#ff2a2a" stroke-width="1"/>
<polyline points="194.7,641.0 190.7,637.6 190.0,631.5 183.9,639.0 175.7,632.2 174.4,640.3 194.7,641.0" stroke="#ff2a2a" stroke-width="1"/>
<polyline points="189.8,604.8 196.3,606.4 201.1,613.0 206.0,617.8" stroke="#ff2a2a" stroke-width="1"/>
<polyline points="204.4,593.4 217.4,586.9 225.5,580.4 233.7,577.2" stroke="#ff2a2a" stroke-width="1"/>
<polyline points="217.4,586.9 223.9,582.0 224.7,588.5" stroke="#ff2a2a" stroke-width="1"/>
<polyline points="225.5,580.4 229.0,582.0 230.0,576.0" stroke="#ff2a2a" stroke-width="1"/>
<polyline points="241.1,553.7 245.5,555.2 244.0,562.4 254.2,569.7 254.2,572.6 238.2,578.4 233.9,576.9 232.4,569.7 229.5,571.1" stroke="#ff2a2a" stroke-width="1"/>
<polyline points="238.5,576.6 253.2,571.7 254.8,569.3 246.7,562.8 241.8,554.6 240.2,553.0" stroke="#ff2a2a" stroke-width="1"/>
<polyline points="248.3,562.0 262.0,556.0 271.0,550.6 276.0,552.0 268.0,560.0 262.0,565.0" stroke="#ff2a2a" stroke-width="1"/>
<polyline points="262.0,565.0 280.0,556.0 300.0,549.0" stroke="#ff2a2a" stroke-width="1"/>
<polyline points="331.4,488.7 335.8,494.1 337.9,498.4 342.3,504.9 345.5,513.6 347.7,515.8" stroke="#ff2a2a" stroke-width="1"/>
<polyline points="330.4,524.4 340.1,516.9 345.0,514.0" stroke="#ff2a2a" stroke-width="1"/>
<polyline points="350.9,506.0 369.4,500.6 380.0,498.4" stroke="#ff2a2a" stroke-width="1"/>
<polyline points="346.0,478.0 352.0,484.0 355.0,492.0 353.0,499.0" stroke="#ff2a2a" stroke-width="1"/>
<polyline points="404.0,495.2 400.4,486.4 404.0,477.6 407.5,475.8 412.7,491.7" stroke="#ff2a2a" stroke-width="1"/>
<polyline points="511.5,499.8 518.0,497.4 529.4,502.3 522.1,507.2 511.5,499.8" stroke="#ff2a2a" stroke-width="1"/>
<polyline points="552.2,516.1 557.0,513.7" stroke="#ff2a2a" stroke-width="1"/>
<polyline points="393.5,273.0 393.5,355.1 395.5,358.3 399.2,360.6 402.9,364.8 405.2,368.5 405.7,372.2 407.1,373.5 406.2,374.9 405.2,379.5 406.6,382.3 409.4,383.7 412.2,384.6 409.9,386.9 413.1,388.8 414.9,393.4 416.8,393.9 414.5,397.6 417.7,399.9 419.5,405.4 422.3,404.5 422.8,410.0 424.2,413.7 420.5,415.6 422.7,418.7 420.9,422.4 420.4,427.0 418.1,430.7 417.2,433.5 414.4,437.2 412.5,439.9 411.6,442.7 412.5,445.5 413.0,450.1 410.7,451.9 409.8,454.7 412.1,458.4 412.5,463.0 412.5,470.4 410.7,474.1 408.9,475.9 404.2,477.8" stroke="#ff0000" stroke-width="1"/>
<polyline points="393.5,293.5 557.0,293.5" stroke="#ff0000" stroke-width="1"/>
<polyline points="556.7,362.7 554.2,363.1 551.6,364.4 550.7,367.0 549.9,369.6 548.6,371.3 548.2,374.7 547.3,377.7 544.7,378.6 541.7,377.3 542.2,376.4 543.0,379.0 546.4,379.4 547.7,380.7 545.6,382.4 542.2,383.3 540.9,385.9 542.2,389.3 543.4,391.0 543.0,393.6 540.9,392.7 539.2,391.0 538.7,389.3 539.6,392.7 540.9,396.2 540.4,399.2 538.7,399.2 533.6,399.2 534.4,402.2 536.1,404.7 535.3,408.2 537.0,410.7 538.7,412.0 537.0,414.2 534.4,415.5 557.0,415.5" stroke="#ff0000" stroke-width="1"/>
<polyline points="550.5,370.0 555.0,370.0 555.0,371.0 550.5,371.0" stroke="#ff0000" stroke-width="1"/>
<polyline points="554.2,363.1 556.0,366.0 554.0,366.5" stroke="#ff0000" stroke-width="1"/>
<polyline points="74.3,640.1 76.7,644.1 76.5,655.3 79.0,657.5 80.1,660.9 84.6,664.8 86.8,668.7 92.4,682.2 96.4,686.1 96.4,692.3 105.9,693.4 108.1,695.4 113.7,695.4 120.5,702.4 126.1,702.2 133.9,704.6 139.5,709.0" stroke="#ff0000" stroke-width="1"/>
</g>
<text x="273.9" y="438.3" font-size="16.2" text-anchor="middle" fill="#8e1010" textLength="27.8" lengthAdjust="spacingAndGlyphs" stroke="#fff" stroke-width="1.0" paint-order="stroke" stroke-linejoin="round">BCS</text>
<text x="348.9" y="490.3" font-size="15.4" text-anchor="middle" fill="#ff8c00" textLength="62.5" lengthAdjust="spacingAndGlyphs" stroke="#fff" stroke-width="1.0" paint-order="stroke" stroke-linejoin="round">Houston</text>
<text x="225.6" y="335.0" font-size="12.3" text-anchor="middle" fill="#000" textLength="54.1" lengthAdjust="spacingAndGlyphs" stroke="#fff" stroke-width="1.0" paint-order="stroke" stroke-linejoin="round">Cleburne</text>
<text x="282.2" y="349.8" font-size="12.3" text-anchor="middle" fill="#000" textLength="59.2" lengthAdjust="spacingAndGlyphs" stroke="#fff" stroke-width="1.0" paint-order="stroke" stroke-linejoin="round">Corsicana</text>
<text x="227.8" y="382.6" font-size="12.3" text-anchor="middle" fill="#000" textLength="31.6" lengthAdjust="spacingAndGlyphs" stroke="#fff" stroke-width="1.0" paint-order="stroke" stroke-linejoin="round">Waco</text>
<text x="296.6" y="387.8" font-size="12.3" text-anchor="middle" fill="#000" textLength="41.7" lengthAdjust="spacingAndGlyphs" stroke="#fff" stroke-width="1.0" paint-order="stroke" stroke-linejoin="round">Buffalo</text>
<text x="334.2" y="333.5" font-size="12.3" text-anchor="middle" fill="#000" textLength="29.4" lengthAdjust="spacingAndGlyphs" stroke="#fff" stroke-width="1.0" paint-order="stroke" stroke-linejoin="round">Tyler</text>
<text x="406.8" y="367.6" font-size="12.3" text-anchor="middle" fill="#000" textLength="39.8" lengthAdjust="spacingAndGlyphs" stroke="#fff" stroke-width="1.0" paint-order="stroke" stroke-linejoin="round">Center</text>
<text x="371.4" y="395.7" font-size="12.3" text-anchor="middle" fill="#000" textLength="34.7" lengthAdjust="spacingAndGlyphs" stroke="#fff" stroke-width="1.0" paint-order="stroke" stroke-linejoin="round">Lufkin</text>
<text x="445.2" y="323.7" font-size="12.3" text-anchor="middle" fill="#000" textLength="66.9" lengthAdjust="spacingAndGlyphs" stroke="#fff" stroke-width="1.0" paint-order="stroke" stroke-linejoin="round">Shreveport</text>
<text x="489.5" y="373.6" font-size="12.3" text-anchor="middle" fill="#000" textLength="79.7" lengthAdjust="spacingAndGlyphs" stroke="#fff" stroke-width="1.0" paint-order="stroke" stroke-linejoin="round">Natchitoches</text>
<text x="464.8" y="406.6" font-size="12.3" text-anchor="middle" fill="#000" textLength="51.8" lengthAdjust="spacingAndGlyphs" stroke="#fff" stroke-width="1.0" paint-order="stroke" stroke-linejoin="round">Leesville</text>
<text x="465.9" y="424.3" font-size="12.3" text-anchor="middle" fill="#000" textLength="55.9" lengthAdjust="spacingAndGlyphs" stroke="#fff" stroke-width="1.0" paint-order="stroke" stroke-linejoin="round">DeRidder</text>
<text x="140.0" y="381.7" font-size="12.3" text-anchor="middle" fill="#ff7f50" textLength="34.8" lengthAdjust="spacingAndGlyphs" stroke="#fff" stroke-width="1.0" paint-order="stroke" stroke-linejoin="round">Mullin</text>
<text x="212.4" y="411.2" font-size="12.3" text-anchor="middle" fill="#000" textLength="37.9" lengthAdjust="spacingAndGlyphs" stroke="#fff" stroke-width="1.0" paint-order="stroke" stroke-linejoin="round">Belton</text>
<text x="168.6" y="430.6" font-size="12.3" text-anchor="middle" fill="#000" textLength="39.3" lengthAdjust="spacingAndGlyphs" stroke="#fff" stroke-width="1.0" paint-order="stroke" stroke-linejoin="round">Burnet</text>
<text x="306.1" y="410.0" font-size="12.3" text-anchor="middle" fill="#000" textLength="78.6" lengthAdjust="spacingAndGlyphs" stroke="#fff" stroke-width="1.0" paint-order="stroke" stroke-linejoin="round">Hilltop Lakes</text>
<text x="266.2" y="422.4" font-size="12.3" text-anchor="middle" fill="#000" textLength="42.7" lengthAdjust="spacingAndGlyphs" stroke="#fff" stroke-width="1.0" paint-order="stroke" stroke-linejoin="round">Hearne</text>
<text x="335.1" y="432.0" font-size="12.3" text-anchor="middle" fill="#000" textLength="58.5" lengthAdjust="spacingAndGlyphs" stroke="#fff" stroke-width="1.0" paint-order="stroke" stroke-linejoin="round">Huntsville</text>
<text x="359.5" y="427.1" font-size="12.3" text-anchor="middle" fill="#000" textLength="54.6" lengthAdjust="spacingAndGlyphs" stroke="#fff" stroke-width="1.0" paint-order="stroke" stroke-linejoin="round">Onalaska</text>
<text x="398.0" y="440.0" font-size="12.3" text-anchor="middle" fill="#000" textLength="24.3" lengthAdjust="spacingAndGlyphs" stroke="#fff" stroke-width="1.0" paint-order="stroke" stroke-linejoin="round">Fred</text>
<text x="332.8" y="456.3" font-size="12.3" text-anchor="middle" fill="#000" textLength="42.8" lengthAdjust="spacingAndGlyphs" stroke="#fff" stroke-width="1.0" paint-order="stroke" stroke-linejoin="round">Conroe</text>
<text x="482.1" y="462.0" font-size="12.3" text-anchor="middle" fill="#000" textLength="79.0" lengthAdjust="spacingAndGlyphs" stroke="#fff" stroke-width="1.0" paint-order="stroke" stroke-linejoin="round">Lake Charles</text>
<text x="225.8" y="469.5" font-size="12.3" text-anchor="middle" fill="#000" textLength="46.2" lengthAdjust="spacingAndGlyphs" stroke="#fff" stroke-width="1.0" paint-order="stroke" stroke-linejoin="round">Bastrop</text>
<text x="316.0" y="469.7" font-size="12.3" text-anchor="middle" fill="#000" textLength="72.0" lengthAdjust="spacingAndGlyphs" stroke="#fff" stroke-width="1.0" paint-order="stroke" stroke-linejoin="round">Prairie View</text>
<text x="283.2" y="464.8" font-size="12.3" text-anchor="middle" fill="#000" textLength="54.4" lengthAdjust="spacingAndGlyphs" stroke="#fff" stroke-width="1.0" paint-order="stroke" stroke-linejoin="round">Brenham</text>
<text x="420.6" y="469.3" font-size="12.3" text-anchor="middle" fill="#000" textLength="62.4" lengthAdjust="spacingAndGlyphs" stroke="#fff" stroke-width="1.0" paint-order="stroke" stroke-linejoin="round">Beaumont</text>
<text x="370.5" y="472.5" font-size="12.3" text-anchor="middle" fill="#000" textLength="40.7" lengthAdjust="spacingAndGlyphs" stroke="#fff" stroke-width="1.0" paint-order="stroke" stroke-linejoin="round">Liberty</text>
<text x="259.2" y="481.0" font-size="12.3" text-anchor="middle" fill="#000" textLength="63.4" lengthAdjust="spacingAndGlyphs" stroke="#fff" stroke-width="1.0" paint-order="stroke" stroke-linejoin="round">La Grange</text>
<text x="393.5" y="486.1" font-size="12.3" text-anchor="middle" fill="#000" textLength="40.6" lengthAdjust="spacingAndGlyphs" stroke="#fff" stroke-width="1.0" paint-order="stroke" stroke-linejoin="round">Winnie</text>
<text x="463.9" y="488.2" font-size="12.3" text-anchor="middle" fill="#000" textLength="54.1" lengthAdjust="spacingAndGlyphs" stroke="#fff" stroke-width="1.0" paint-order="stroke" stroke-linejoin="round">Cameron</text>
<text x="139.7" y="487.3" font-size="12.3" text-anchor="middle" fill="#000" textLength="42.3" lengthAdjust="spacingAndGlyphs" stroke="#fff" stroke-width="1.0" paint-order="stroke" stroke-linejoin="round">Boerne</text>
<text x="277.4" y="493.3" font-size="12.3" text-anchor="middle" fill="#000" textLength="58.1" lengthAdjust="spacingAndGlyphs" stroke="#fff" stroke-width="1.0" paint-order="stroke" stroke-linejoin="round">Columbus</text>
<text x="365.1" y="504.9" font-size="12.3" text-anchor="middle" fill="#000" textLength="75.8" lengthAdjust="spacingAndGlyphs" stroke="#fff" stroke-width="1.0" paint-order="stroke" stroke-linejoin="round">Friendswood</text>
<text x="336.9" y="501.5" font-size="12.3" text-anchor="middle" fill="#000" textLength="70.6" lengthAdjust="spacingAndGlyphs" stroke="#fff" stroke-width="1.0" paint-order="stroke" stroke-linejoin="round">Sugar Land</text>
<text x="230.7" y="510.7" font-size="12.3" text-anchor="middle" fill="#000" textLength="38.2" lengthAdjust="spacingAndGlyphs" stroke="#fff" stroke-width="1.0" paint-order="stroke" stroke-linejoin="round">Shiner</text>
<text x="299.6" y="516.9" font-size="12.3" text-anchor="middle" fill="#000" textLength="51.3" lengthAdjust="spacingAndGlyphs" stroke="#fff" stroke-width="1.0" paint-order="stroke" stroke-linejoin="round">Wharton</text>
<text x="381.2" y="518.6" font-size="12.3" text-anchor="middle" fill="#000" textLength="60.6" lengthAdjust="spacingAndGlyphs" stroke="#fff" stroke-width="1.0" paint-order="stroke" stroke-linejoin="round">Galveston</text>
<text x="222.3" y="528.5" font-size="12.3" text-anchor="middle" fill="#000" textLength="35.6" lengthAdjust="spacingAndGlyphs" stroke="#fff" stroke-width="1.0" paint-order="stroke" stroke-linejoin="round">Gillett</text>
<text x="147.6" y="533.4" font-size="12.3" text-anchor="middle" fill="#000" textLength="37.8" lengthAdjust="spacingAndGlyphs" stroke="#fff" stroke-width="1.0" paint-order="stroke" stroke-linejoin="round">Poteet</text>
<text x="305.8" y="538.5" font-size="12.3" text-anchor="middle" fill="#000" textLength="52.1" lengthAdjust="spacingAndGlyphs" stroke="#fff" stroke-width="1.0" paint-order="stroke" stroke-linejoin="round">Bay City</text>
<text x="244.1" y="547.1" font-size="12.3" text-anchor="middle" fill="#000" textLength="45.5" lengthAdjust="spacingAndGlyphs" stroke="#fff" stroke-width="1.0" paint-order="stroke" stroke-linejoin="round">Victoria</text>
<text x="217.7" y="555.4" font-size="12.3" text-anchor="middle" fill="#000" textLength="37.4" lengthAdjust="spacingAndGlyphs" stroke="#fff" stroke-width="1.0" paint-order="stroke" stroke-linejoin="round">Goliad</text>
<text x="278.3" y="559.6" font-size="12.3" text-anchor="middle" fill="#000" textLength="71.2" lengthAdjust="spacingAndGlyphs" stroke="#fff" stroke-width="1.0" paint-order="stroke" stroke-linejoin="round">Port Lavaca</text>
<text x="147.9" y="568.6" font-size="12.3" text-anchor="middle" fill="#000" textLength="37.2" lengthAdjust="spacingAndGlyphs" stroke="#fff" stroke-width="1.0" paint-order="stroke" stroke-linejoin="round">Tilden</text>
<text x="407.3" y="561.0" font-size="12.3" text-anchor="middle" fill="#0000ff" textLength="81.8" lengthAdjust="spacingAndGlyphs" stroke="#fff" stroke-width="1.0" paint-order="stroke" stroke-linejoin="round">Sub Aquatica</text>
<text x="386.4" y="596.8" font-size="12.3" text-anchor="middle" fill="#0000ff" textLength="96.3" lengthAdjust="spacingAndGlyphs" stroke="#fff" stroke-width="1.0" paint-order="stroke" stroke-linejoin="round">Spongebobland</text>
<text x="451.9" y="638.6" font-size="12.3" text-anchor="middle" fill="#0000ff" textLength="56.3" lengthAdjust="spacingAndGlyphs" stroke="#fff" stroke-width="1.0" paint-order="stroke" stroke-linejoin="round">Gunnison</text>
<text x="396.8" y="660.3" font-size="12.3" text-anchor="middle" fill="#0000ff" textLength="82.4" lengthAdjust="spacingAndGlyphs" stroke="#fff" stroke-width="1.0" paint-order="stroke" stroke-linejoin="round">Hoover-Diana</text>
<text x="239.5" y="612.5" font-size="12.3" text-anchor="middle" fill="#000" textLength="87.0" lengthAdjust="spacingAndGlyphs" stroke="#fff" stroke-width="1.0" paint-order="stroke" stroke-linejoin="round">Corpus Christi</text>
<rect x="258.4" y="434.2" width="6" height="6" fill="none" stroke="#22ff00" stroke-width="1.2"/>
<rect x="296.1" y="477.6" width="6" height="6" fill="none" stroke="#22ff00" stroke-width="1.2"/>
<rect x="311.3" y="473.3" width="6" height="6" fill="none" stroke="#22ff00" stroke-width="1.2"/>
<rect x="330.2" y="470.6" width="6" height="6" fill="none" stroke="#22ff00" stroke-width="1.2"/>
<rect x="341.1" y="486.3" width="6" height="6" fill="none" stroke="#22ff00" stroke-width="1.2"/>
<rect x="293.9" y="495.5" width="6" height="6" fill="none" stroke="#22ff00" stroke-width="1.2"/>
<rect x="306.9" y="503.1" width="6" height="6" fill="none" stroke="#22ff00" stroke-width="1.2"/>
<rect x="318.3" y="507.4" width="6" height="6" fill="none" stroke="#22ff00" stroke-width="1.2"/>
<rect x="328.1" y="499.8" width="6" height="6" fill="none" stroke="#22ff00" stroke-width="1.2"/>
<rect x="310.7" y="518.2" width="6" height="6" fill="none" stroke="#22ff00" stroke-width="1.2"/>
<rect x="344.3" y="515.0" width="6" height="6" fill="none" stroke="#22ff00" stroke-width="1.2"/>
<rect x="284.5" y="534.9" width="6" height="6" fill="none" stroke="#22ff00" stroke-width="1.2"/>
<line x1="73.0" y1="273.5" x2="558.0" y2="273.5" stroke="#000" stroke-width="1.1" />
<line x1="73.0" y1="709.5" x2="558.0" y2="709.5" stroke="#000" stroke-width="1.1" />
<line x1="73.5" y1="273.0" x2="73.5" y2="710.0" stroke="#000" stroke-width="1.1" stroke-dasharray="13 1 8 1.2 17 1 6 1"/>
<line x1="557.5" y1="273.0" x2="557.5" y2="710.0" stroke="#000" stroke-width="1.1" stroke-dasharray="13 1 8 1.2 17 1 6 1"/>
<line x1="103.5" y1="709" x2="103.5" y2="704" stroke="#000" stroke-width="1" />
<text x="103.5" y="721.9" font-size="11.2" text-anchor="middle" fill="#000" textLength="22.8" lengthAdjust="spacingAndGlyphs" >−99</text>
<line x1="162.5" y1="709" x2="162.5" y2="704" stroke="#000" stroke-width="1" />
<text x="162.1" y="721.9" font-size="11.2" text-anchor="middle" fill="#000" textLength="22.8" lengthAdjust="spacingAndGlyphs" >−98</text>
<line x1="220.5" y1="709" x2="220.5" y2="704" stroke="#000" stroke-width="1" />
<text x="220.6" y="721.9" font-size="11.2" text-anchor="middle" fill="#000" textLength="22.8" lengthAdjust="spacingAndGlyphs" >−97</text>
<line x1="279.5" y1="709" x2="279.5" y2="704" stroke="#000" stroke-width="1" />
<text x="279.2" y="721.9" font-size="11.2" text-anchor="middle" fill="#000" textLength="22.8" lengthAdjust="spacingAndGlyphs" >−96</text>
<line x1="337.5" y1="709" x2="337.5" y2="704" stroke="#000" stroke-width="1" />
<text x="337.8" y="721.9" font-size="11.2" text-anchor="middle" fill="#000" textLength="22.8" lengthAdjust="spacingAndGlyphs" >−95</text>
<line x1="396.5" y1="709" x2="396.5" y2="704" stroke="#000" stroke-width="1" />
<text x="396.4" y="721.9" font-size="11.2" text-anchor="middle" fill="#000" textLength="22.8" lengthAdjust="spacingAndGlyphs" >−94</text>
<line x1="454.5" y1="709" x2="454.5" y2="704" stroke="#000" stroke-width="1" />
<text x="454.9" y="721.9" font-size="11.2" text-anchor="middle" fill="#000" textLength="22.8" lengthAdjust="spacingAndGlyphs" >−93</text>
<line x1="513.5" y1="709" x2="513.5" y2="704" stroke="#000" stroke-width="1" />
<text x="513.5" y="721.9" font-size="11.2" text-anchor="middle" fill="#000" textLength="22.8" lengthAdjust="spacingAndGlyphs" >−92</text>
<line x1="73" y1="295.5" x2="78" y2="295.5" stroke="#000" stroke-width="1" />
<text x="67.8" y="299.2" font-size="11.2" text-anchor="end" fill="#000" textLength="13.7" lengthAdjust="spacingAndGlyphs" >33</text>
<line x1="73" y1="355.5" x2="78" y2="355.5" stroke="#000" stroke-width="1" />
<text x="67.8" y="359.6" font-size="11.2" text-anchor="end" fill="#000" textLength="13.7" lengthAdjust="spacingAndGlyphs" >32</text>
<line x1="73" y1="416.5" x2="78" y2="416.5" stroke="#000" stroke-width="1" />
<text x="67.8" y="420.0" font-size="11.2" text-anchor="end" fill="#000" textLength="13.7" lengthAdjust="spacingAndGlyphs" >31</text>
<line x1="73" y1="476.5" x2="78" y2="476.5" stroke="#000" stroke-width="1" />
<text x="67.8" y="480.4" font-size="11.2" text-anchor="end" fill="#000" textLength="13.7" lengthAdjust="spacingAndGlyphs" >30</text>
<line x1="73" y1="536.5" x2="78" y2="536.5" stroke="#000" stroke-width="1" />
<text x="67.8" y="540.8" font-size="11.2" text-anchor="end" fill="#000" textLength="13.7" lengthAdjust="spacingAndGlyphs" >29</text>
<line x1="73" y1="597.5" x2="78" y2="597.5" stroke="#000" stroke-width="1" />
<text x="67.8" y="601.2" font-size="11.2" text-anchor="end" fill="#000" textLength="13.7" lengthAdjust="spacingAndGlyphs" >28</text>
<line x1="73" y1="657.5" x2="78" y2="657.5" stroke="#000" stroke-width="1" />
<text x="67.8" y="661.6" font-size="11.2" text-anchor="end" fill="#000" textLength="13.7" lengthAdjust="spacingAndGlyphs" >27</text>
<text x="314.9" y="740.9" font-size="11.2" text-anchor="middle" fill="#000" textLength="53.2" lengthAdjust="spacingAndGlyphs" >Longitude</text>
<text x="47.2" y="493.2" font-size="11.2" text-anchor="middle" fill="#000" textLength="43.6" lengthAdjust="spacingAndGlyphs" transform="rotate(-90 47.2 493.2)" >Latitude</text>
<line x1="595" y1="327.2" x2="688" y2="327.2" stroke="#f0f0f0" stroke-width="2" />
<line x1="595" y1="381.7" x2="688" y2="381.7" stroke="#f0f0f0" stroke-width="2" />
<line x1="595" y1="436.2" x2="688" y2="436.2" stroke="#f0f0f0" stroke-width="2" />
<line x1="595" y1="490.7" x2="688" y2="490.7" stroke="#f0f0f0" stroke-width="2" />
<line x1="595" y1="545.2" x2="688" y2="545.2" stroke="#f0f0f0" stroke-width="2" />
<line x1="595" y1="599.7" x2="688" y2="599.7" stroke="#f0f0f0" stroke-width="2" />
<line x1="595" y1="654.2" x2="688" y2="654.2" stroke="#f0f0f0" stroke-width="2" />
<line x1="641" y1="274" x2="641" y2="709" stroke="#f0f0f0" stroke-width="2" />
<line x1="595.0" y1="273.5" x2="689.0" y2="273.5" stroke="#000" stroke-width="1.1" />
<line x1="595.0" y1="709.5" x2="689.0" y2="709.5" stroke="#000" stroke-width="1.1" />
<line x1="595.5" y1="273.0" x2="595.5" y2="710.0" stroke="#000" stroke-width="1.1" />
<line x1="688.5" y1="273.0" x2="688.5" y2="710.0" stroke="#000" stroke-width="1.1" stroke-dasharray="13 1 8 1.2 17 1 6 1"/>
<line x1="595" y1="273.5" x2="600" y2="273.5" stroke="#000" stroke-width="1" />
<text x="588.7" y="277.0" font-size="11.2" text-anchor="end" fill="#000" textLength="20.6" lengthAdjust="spacingAndGlyphs" >400</text>
<line x1="595" y1="327.5" x2="600" y2="327.5" stroke="#000" stroke-width="1" />
<text x="588.7" y="331.5" font-size="11.2" text-anchor="end" fill="#000" textLength="20.6" lengthAdjust="spacingAndGlyphs" >300</text>
<line x1="595" y1="382.5" x2="600" y2="382.5" stroke="#000" stroke-width="1" />
<text x="588.7" y="386.0" font-size="11.2" text-anchor="end" fill="#000" textLength="20.6" lengthAdjust="spacingAndGlyphs" >200</text>
<line x1="595" y1="436.5" x2="600" y2="436.5" stroke="#000" stroke-width="1" />
<text x="588.7" y="440.5" font-size="11.2" text-anchor="end" fill="#000" textLength="20.6" lengthAdjust="spacingAndGlyphs" >100</text>
<line x1="595" y1="491.5" x2="600" y2="491.5" stroke="#000" stroke-width="1" />
<text x="588.7" y="495.0" font-size="11.2" text-anchor="end" fill="#000" >0</text>
<line x1="595" y1="545.5" x2="600" y2="545.5" stroke="#000" stroke-width="1" />
<text x="588.7" y="549.5" font-size="11.2" text-anchor="end" fill="#000" textLength="29.7" lengthAdjust="spacingAndGlyphs" >−100</text>
<line x1="595" y1="600.5" x2="600" y2="600.5" stroke="#000" stroke-width="1" />
<text x="588.7" y="604.0" font-size="11.2" text-anchor="end" fill="#000" textLength="29.7" lengthAdjust="spacingAndGlyphs" >−200</text>
<line x1="595" y1="654.5" x2="600" y2="654.5" stroke="#000" stroke-width="1" />
<text x="588.7" y="658.5" font-size="11.2" text-anchor="end" fill="#000" textLength="29.7" lengthAdjust="spacingAndGlyphs" >−300</text>
<line x1="595" y1="709.5" x2="600" y2="709.5" stroke="#000" stroke-width="1" />
<text x="588.7" y="713.0" font-size="11.2" text-anchor="end" fill="#000" textLength="29.7" lengthAdjust="spacingAndGlyphs" >−400</text>
<line x1="595.5" y1="709" x2="595.5" y2="704" stroke="#000" stroke-width="1" />
<text x="595.5" y="722.0" font-size="11.2" text-anchor="middle" fill="#000" >0</text>
<line x1="641.5" y1="709" x2="641.5" y2="704" stroke="#000" stroke-width="1" />
<text x="642.0" y="722.0" font-size="11.2" text-anchor="middle" fill="#000" textLength="13.7" lengthAdjust="spacingAndGlyphs" >10</text>
<line x1="688.5" y1="709" x2="688.5" y2="704" stroke="#000" stroke-width="1" />
<text x="688.5" y="722.0" font-size="11.2" text-anchor="middle" fill="#000" textLength="13.7" lengthAdjust="spacingAndGlyphs" >20</text>
<text x="640.9" y="740.7" font-size="11.2" text-anchor="middle" fill="#000" textLength="67.0" lengthAdjust="spacingAndGlyphs" >Altitude, km</text>
<text x="701.2" y="491.8" font-size="11.2" text-anchor="middle" fill="#000" textLength="91.0" lengthAdjust="spacingAndGlyphs" transform="rotate(-90 701.2 491.8)" >North-South, km</text>
<rect x="675" y="47" width="1" height="1" fill="#ff7f0e"/>
<rect x="676" y="47" width="1" height="1" fill="#1f77b4"/>
<rect x="75" y="242" width="1" height="1" fill="#ff7f0e"/>
<rect x="75" y="243" width="1" height="1" fill="#2ca02c"/>
<rect x="612" y="508" width="1" height="1" fill="#17becf"/>
<rect x="613" y="508" width="1" height="1" fill="#ff0000"/>
<rect x="672" y="498" width="1" height="1" fill="#555555"/>
<rect x="685" y="482" width="1" height="1" fill="#ff00ff"/>
</svg></body></html>
